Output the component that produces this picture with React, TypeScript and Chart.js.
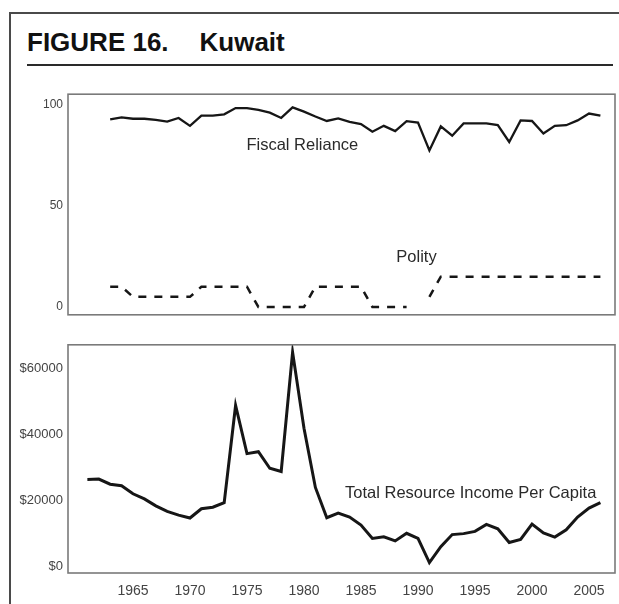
import React, { useEffect, useRef } from "react";
import { Chart, registerables } from "chart.js";

Chart.register(...registerables);

// ---------- data ----------
const years = [
  1961, 1962, 1963, 1964, 1965, 1966, 1967, 1968, 1969, 1970,
  1971, 1972, 1973, 1974, 1975, 1976, 1977, 1978, 1979, 1980,
  1981, 1982, 1983, 1984, 1985, 1986, 1987, 1988, 1989, 1990,
  1991, 1992, 1993, 1994, 1995, 1996, 1997, 1998, 1999, 2000,
  2001, 2002, 2003, 2004, 2005, 2006,
];

const fiscalReliance: (number | null)[] = [
  null, null, 92.8, 93.8, 93.1, 93.1, 92.6, 91.7, 93.5, 89.6,
  94.7, 94.7, 95.3, 98.4, 98.4, 97.5, 96.1, 93.5, 98.7, 96.6,
  94.2, 92.0, 93.3, 91.6, 90.5, 86.7, 89.6, 87.0, 91.9, 91.2,
  77.4, 89.3, 84.7, 90.8, 90.8, 90.8, 90.0, 81.6, 92.3, 92.0,
  85.8, 89.6, 89.9, 92.3, 95.7, 94.6,
];

const polity: (number | null)[] = [
  null, null, 10, 10, 5, 5, 5, 5, 5, 5,
  10, 10, 10, 10, 10, 0, 0, 0, 0, 0,
  10, 10, 10, 10, 10, 0, 0, 0, 0, null,
  5, 15, 15, 15, 15, 15, 15, 15, 15, 15,
  15, 15, 15, 15, 15, 15,
];

const resourceIncome: number[] = [
  26480, 26580, 25030, 24550, 22130, 20580, 18460, 16810, 15650, 14780,
  17590, 18070, 19420, 48900, 34300, 34880, 29860, 28890, 65030, 42000,
  24060, 14880, 16300, 15080, 12660, 8600, 9080, 7830, 10150, 8600,
  1260, 6090, 9760, 10050, 10730, 12850, 11500, 7340, 8310, 12950,
  10240, 8990, 11210, 15080, 17780, 19420,
];

const topTicks = [0, 50, 100];
const bottomTicks = [0, 20000, 40000, 60000];
const xTicks = [1965, 1970, 1975, 1980, 1985, 1990, 1995, 2000, 2005];
const seriesNames = ["Fiscal Reliance", "Polity", "Total Resource Income Per Capita"];

// ---------- helpers ----------
const FONT = '"Liberation Sans", Arial, Helvetica, sans-serif';
const LINE = "#161616";
const X_MIN = 1959.3;
const X_MAX = 2007.28;

const toPoints = (vals: (number | null)[]) =>
  years.map((yr, i) => ({ x: yr, y: vals[i] }));

const frameAndLabels = {
  id: "frameAndLabels",
  afterDraw(chart: any, _args: any, opts: any) {
    const { ctx, chartArea } = chart;
    ctx.save();
    ctx.strokeStyle = "#7a7a7a";
    ctx.lineWidth = 1.6;
    ctx.strokeRect(
      chartArea.left,
      chartArea.top,
      chartArea.right - chartArea.left,
      chartArea.bottom - chartArea.top
    );
    const xs = chart.scales.x;
    const ys = chart.scales.y;
    ctx.fillStyle = "#2a2a2a";
    ctx.font = `16.5px ${FONT}`;
    ctx.textAlign = "left";
    ctx.textBaseline = "middle";
    (opts.labels || []).forEach((l: any) => {
      ctx.fillText(l.text, xs.getPixelForValue(l.x), ys.getPixelForValue(l.y));
    });
    ctx.restore();
  },
};

function TopChart() {
  const ref = useRef<HTMLCanvasElement>(null);
  useEffect(() => {
    if (!ref.current) return;
    const chart = new Chart(ref.current, {
      type: "line",
      data: {
        datasets: [
          {
            label: seriesNames[0],
            data: toPoints(fiscalReliance),
            borderColor: LINE,
            borderWidth: 2.3,
            pointRadius: 0,
            tension: 0,
            spanGaps: false,
          },
          {
            label: seriesNames[1],
            data: toPoints(polity),
            borderColor: LINE,
            borderWidth: 2.5,
            borderDash: [8, 8],
            pointRadius: 0,
            tension: 0,
            spanGaps: false,
          },
        ],
      },
      options: {
        responsive: false,
        animation: false,
        events: [],
        layout: { padding: { top: 3, bottom: 3, left: 0, right: 4 } },
        plugins: {
          legend: { display: false },
          tooltip: { enabled: false },
          frameAndLabels: {
            labels: [
              { text: seriesNames[0], x: 1974.95, y: 80 },
              { text: seriesNames[1], x: 1988.1, y: 24.5 },
            ],
          },
        } as any,
        scales: {
          x: { type: "linear", min: X_MIN, max: X_MAX, display: false },
          y: {
            type: "linear",
            min: -3.88,
            max: 105.25,
            afterFit: (s: any) => {
              s.width = 68;
            },
            afterBuildTicks: (s: any) => {
              s.ticks = topTicks.map((v) => ({ value: v }));
            },
            grid: { display: false, drawTicks: false },
            border: { display: false },
            ticks: {
              padding: 5,
              color: "#444",
              font: { family: FONT, size: 12 },
              callback: (v: any) => String(v),
            },
          },
        },
      },
      plugins: [frameAndLabels],
    });
    return () => chart.destroy();
  }, []);
  return (
    <canvas
      ref={ref}
      width={619}
      height={245}
      style={{ position: "absolute", left: 0, top: 82, width: 619, height: 245 }}
    />
  );
}

function BottomChart() {
  const ref = useRef<HTMLCanvasElement>(null);
  useEffect(() => {
    if (!ref.current) return;
    const chart = new Chart(ref.current, {
      type: "line",
      data: {
        datasets: [
          {
            label: seriesNames[2],
            data: toPoints(resourceIncome),
            borderColor: LINE,
            borderWidth: 3,
            pointRadius: 0,
            tension: 0,
          },
        ],
      },
      options: {
        responsive: false,
        animation: false,
        events: [],
        layout: { padding: { top: 3, bottom: 0, left: 0, right: 4 } },
        plugins: {
          legend: { display: false },
          tooltip: { enabled: false },
          frameAndLabels: {
            labels: [{ text: seriesNames[2], x: 1983.6, y: 22300 }],
          },
        } as any,
        scales: {
          x: {
            type: "linear",
            min: X_MIN,
            max: X_MAX,
            afterFit: (s: any) => {
              s.height = 31;
            },
            afterBuildTicks: (s: any) => {
              s.ticks = xTicks.map((v) => ({ value: v }));
            },
            grid: { display: false, drawTicks: false },
            border: { display: false },
            ticks: {
              padding: 10,
              maxRotation: 0,
              autoSkip: false,
              color: "#444",
              font: { family: FONT, size: 14 },
              callback: (v: any) => String(v),
            },
          },
          y: {
            type: "linear",
            min: -1890,
            max: 67300,
            afterFit: (s: any) => {
              s.width = 68;
            },
            afterBuildTicks: (s: any) => {
              s.ticks = bottomTicks.map((v) => ({ value: v }));
            },
            grid: { display: false, drawTicks: false },
            border: { display: false },
            ticks: {
              padding: 5,
              color: "#444",
              font: { family: FONT, size: 13 },
              callback: (v: any) => "$" + String(v),
            },
          },
        },
      },
      plugins: [frameAndLabels],
    });
    return () => chart.destroy();
  }, []);
  return (
    <canvas
      ref={ref}
      width={619}
      height={272}
      style={{ position: "absolute", left: 0, top: 332, width: 619, height: 272 }}
    />
  );
}

export default function App() {
  return (
    <div
      style={{
        position: "absolute",
        left: 0,
        top: 0,
        width: 619,
        height: 604,
        background: "#fff",
        overflow: "hidden",
      }}
    >
      {/* outer frame (top and left edges) */}
      <div
        style={{
          position: "absolute",
          left: 9,
          top: 12,
          width: 620,
          height: 600,
          borderTop: "2px solid #4a4a4a",
          borderLeft: "2px solid #4a4a4a",
        }}
      />
      {/* title */}
      <div
        style={{
          position: "absolute",
          left: 27,
          top: 28.7,
          fontFamily: FONT,
          fontWeight: "bold",
          fontSize: 26,
          lineHeight: "26px",
          color: "#111",
          whiteSpace: "nowrap",
        }}
      >
        FIGURE 16.
      </div>
      <div
        style={{
          position: "absolute",
          left: 199.5,
          top: 28.7,
          fontFamily: FONT,
          fontWeight: "bold",
          fontSize: 26,
          lineHeight: "26px",
          color: "#111",
          whiteSpace: "nowrap",
        }}
      >
        Kuwait
      </div>
      {/* rule under title */}
      <div
        style={{
          position: "absolute",
          left: 27,
          top: 64,
          width: 586,
          height: 0,
          borderTop: "2px solid #2a2a2a",
        }}
      />
      <TopChart />
      <BottomChart />
    </div>
  );
}
